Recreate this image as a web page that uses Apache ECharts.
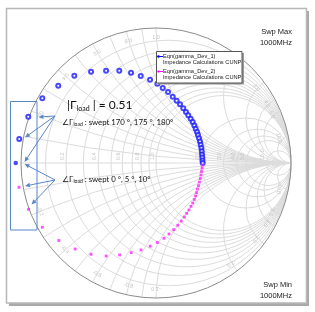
<!DOCTYPE html>
<html>
<head>
<meta charset="utf-8">
<style>
  html, body { margin: 0; padding: 0; background: #fff; }
  #chart { width: 315px; height: 312px; }
</style>
<script src="https://cdn.jsdelivr.net/npm/echarts@6/dist/echarts.min.js"></script>
</head>
<body>
<div id="chart"></div>
<script>
// smith grid values (normalised r and x)
const resistanceGrid = [0.1, 0.2, 0.3, 0.4, 0.5, 0.6, 0.7, 0.8, 0.9, 1, 2, 3, 4, 5, 10];
const reactanceGrid = [0.1, 0.2, 0.3, 0.4, 0.5, 0.6, 0.7, 0.8, 0.9, 1, 2, 3, 4, 5, 10];
const resistanceLabels = ['0.2', '0.4', '0.6', '0.8', '1.0', '2.0', '3.0', '4.0', '5.0', '10.0'];
const reactanceLabels = ['0.2', '0.4', '0.6', '0.8', '1.0', '2.0', '3.0', '4.0', '5.0', '10.0'];

// reflection coefficient
const dev1Re = [-1.013, -0.946, -0.842, -0.724, -0.605, -0.481, -0.370, -0.272, -0.185, -0.113, -0.044, 0.010, 0.050, 0.089, 0.124, 0.153, 0.178, 0.202, 0.222, 0.239, 0.257, 0.272, 0.284, 0.294, 0.304, 0.311, 0.319, 0.326, 0.331, 0.336, 0.339, 0.341, 0.343, 0.344, 0.346];
const dev1Im = [0.178, 0.343, 0.479, 0.573, 0.647, 0.676, 0.684, 0.684, 0.669, 0.644, 0.617, 0.587, 0.556, 0.526, 0.491, 0.461, 0.435, 0.405, 0.378, 0.353, 0.328, 0.304, 0.278, 0.254, 0.230, 0.207, 0.183, 0.159, 0.136, 0.111, 0.087, 0.063, 0.041, 0.019, 0.000];
const dev2Re = [-1.015, -0.944, -0.842, -0.720, -0.599, -0.481, -0.369, -0.269, -0.184, -0.111, -0.043, 0.010, 0.059, 0.096, 0.131, 0.161, 0.187, 0.210, 0.227, 0.244, 0.259, 0.272, 0.284, 0.293, 0.300, 0.307, 0.315, 0.322, 0.328, 0.333, 0.337, 0.341, 0.344];
const dev2Im = [-0.180, -0.343, -0.476, -0.574, -0.637, -0.676, -0.689, -0.681, -0.664, -0.644, -0.616, -0.589, -0.558, -0.526, -0.494, -0.461, -0.430, -0.400, -0.373, -0.348, -0.321, -0.296, -0.270, -0.244, -0.219, -0.193, -0.167, -0.141, -0.115, -0.089, -0.063, -0.037, -0.015];
const startRe = [-1.039];
const startIm = [0.0];

const seriesNames = ['Eqn(gamma_Dev_1)', 'Eqn(gamma_Dev_2)'];
const seriesSub = 'Impedance Calculations CUNP';

const gridColor = '#dcdcdc';
const labelColor = '#c4c4c4';
const noteColor = '#5b86c8';
const noteFont = 'Lato';

const zip = (a, b) => a.map((v, i) => [v, b[i]]);

function resistanceItem(params, api) {
  const r = api.value(0);
  const c = api.coord([r / (1 + r), 0]);
  const rad = api.size([1 / (1 + r), 0])[0];
  return {
    type: 'circle', silent: true,
    shape: { cx: c[0], cy: c[1], r: rad },
    style: { fill: 'none', stroke: gridColor, lineWidth: 1 }
  };
}

function reactanceItem(params, api) {
  const x = api.value(0);
  const c = api.coord([1, 1 / x]);
  const rad = api.size([1 / Math.abs(x), 0])[0];
  const p = api.coord([(x * x - 1) / (x * x + 1), 2 * x / (x * x + 1)]);
  let a = Math.atan2(p[1] - c[1], p[0] - c[0]);
  let start, cw;
  if (x > 0) {
    start = Math.PI / 2; cw = true;
    while (a < start) a += 2 * Math.PI;
  } else {
    start = -Math.PI / 2; cw = false;
    while (a > start) a -= 2 * Math.PI;
  }
  return {
    type: 'arc', silent: true,
    shape: { cx: c[0], cy: c[1], r: rad, startAngle: start, endAngle: a, clockwise: cw },
    style: { fill: 'none', stroke: gridColor, lineWidth: 1 }
  };
}

function outlineItem(params, api) {
  const c = api.coord([0, 0]);
  const rad = api.size([1, 0])[0];
  const l = api.coord([-1, 0]);
  const r = api.coord([1, 0]);
  return {
    type: 'group', silent: true,
    children: [
      { type: 'line', shape: { x1: l[0], y1: l[1], x2: r[0], y2: r[1] }, style: { stroke: gridColor, lineWidth: 1 } },
      { type: 'circle', shape: { cx: c[0], cy: c[1], r: rad }, style: { fill: 'none', stroke: '#8c8c8c', lineWidth: 1 } }
    ]
  };
}

function rLabelItem(params, api) {
  const r = parseFloat(resistanceLabels[params.dataIndex]);
  const p = api.coord([(r - 1) / (r + 1), 0]);
  return {
    type: 'text', silent: true,
    x: p[0] - 1, y: p[1] - 3, rotation: Math.PI / 2,
    style: { text: resistanceLabels[params.dataIndex], fill: labelColor, font: '5.5px "Liberation Sans"', align: 'left', verticalAlign: 'bottom' }
  };
}

function xLabelItem(params, api) {
  const n = reactanceLabels.length;
  const i = params.dataIndex % n;
  const sign = params.dataIndex < n ? 1 : -1;
  const x = sign * parseFloat(reactanceLabels[i]);
  const gx = (x * x - 1) / (x * x + 1), gy = 2 * x / (x * x + 1);
  const p = api.coord([gx * 0.93, gy * 0.93]);
  const ang = Math.atan2(gy, gx);
  let rot = ang - Math.PI / 2;
  if (gx < 0) rot += Math.PI;
  return {
    type: 'text', silent: true,
    x: p[0], y: p[1], rotation: rot,
    style: { text: (sign < 0 ? '-' : '') + reactanceLabels[i], fill: labelColor, font: '5.5px "Liberation Sans"', align: 'center', verticalAlign: 'middle' }
  };
}

// text pieces with subscripts, laid out with measured widths
const measureCtx = document.createElement('canvas').getContext('2d');
function textRun(x, y, parts) {
  const out = [];
  let cx = x;
  parts.forEach(p => {
    const font = p.size + 'px ' + noteFont;
    measureCtx.font = font;
    out.push({ type: 'text', silent: true, z: 50, x: cx, y: y + (p.dy || 0),
      style: { text: p.text, font: font, fill: '#111', align: 'left', verticalAlign: 'middle' } });
    cx += measureCtx.measureText(p.text).width;
  });
  return out;
}

function arrow(x1, y1, x2, y2) {
  const ang = Math.atan2(y2 - y1, x2 - x1);
  const len = 5, half = 2.2;
  const bx = x2 - len * Math.cos(ang), by = y2 - len * Math.sin(ang);
  const nx = -Math.sin(ang), ny = Math.cos(ang);
  return [
    { type: 'line', silent: true, z: 50, shape: { x1: x1, y1: y1, x2: bx, y2: by }, style: { stroke: noteColor, lineWidth: 1 } },
    { type: 'polygon', silent: true, z: 50, shape: { points: [[x2, y2], [bx + nx * half, by + ny * half], [bx - nx * half, by - ny * half]] }, style: { fill: noteColor } }
  ];
}

const graphics = [
  { type: 'rect', silent: true, z: -5, shape: { x: 9, y: 11, width: 300, height: 295 }, style: { fill: '#a9a9a9' } },
  { type: 'rect', silent: true, z: -4, shape: { x: 6.5, y: 8.5, width: 300, height: 294.5 }, style: { fill: '#fff', stroke: '#b8b8b8', lineWidth: 1.5 } },
  // legend box
  { type: 'rect', silent: true, z: 60, shape: { x: 158, y: 53, width: 86, height: 31.5 }, style: { fill: '#9a9a9a' } },
  { type: 'rect', silent: true, z: 61, shape: { x: 156.5, y: 51.5, width: 85.5, height: 31.5 }, style: { fill: '#fff', stroke: '#555', lineWidth: 1 } },
  { type: 'line', silent: true, z: 62, shape: { x1: 157.5, y1: 56.5, x2: 163, y2: 56.5 }, style: { stroke: '#0000ff', lineWidth: 1 } },
  { type: 'circle', silent: true, z: 62, shape: { cx: 158.5, cy: 56.5, r: 1.3 }, style: { fill: '#0000ff' } },
  { type: 'line', silent: true, z: 62, shape: { x1: 157.5, y1: 71.5, x2: 163, y2: 71.5 }, style: { stroke: '#ff00ff', lineWidth: 1 } },
  { type: 'rect', silent: true, z: 62, shape: { x: 157.5, y: 70.5, width: 2, height: 2 }, style: { fill: '#ff00ff' } },
  { type: 'text', silent: true, z: 62, x: 163, y: 56.5, style: { text: seriesNames[0], font: '5.7px "Liberation Sans"', fill: '#222', verticalAlign: 'middle' } },
  { type: 'text', silent: true, z: 62, x: 163, y: 62.5, style: { text: seriesSub, font: '5.7px "Liberation Sans"', fill: '#222', verticalAlign: 'middle' } },
  { type: 'text', silent: true, z: 62, x: 163, y: 71.5, style: { text: seriesNames[1], font: '5.7px "Liberation Sans"', fill: '#222', verticalAlign: 'middle' } },
  { type: 'text', silent: true, z: 62, x: 163, y: 77.5, style: { text: seriesSub, font: '5.7px "Liberation Sans"', fill: '#222', verticalAlign: 'middle' } },
  // sweep labels
  { type: 'text', silent: true, z: 50, x: 292, y: 32, style: { text: 'Swp Max', font: '7.5px "Liberation Sans"', fill: '#222', align: 'right', verticalAlign: 'middle' } },
  { type: 'text', silent: true, z: 50, x: 292, y: 42.5, style: { text: '1000MHz', font: '7.5px "Liberation Sans"', fill: '#222', align: 'right', verticalAlign: 'middle' } },
  { type: 'text', silent: true, z: 50, x: 292, y: 285, style: { text: 'Swp Min', font: '7.5px "Liberation Sans"', fill: '#222', align: 'right', verticalAlign: 'middle' } },
  { type: 'text', silent: true, z: 50, x: 292, y: 295.5, style: { text: '1000MHz', font: '7.5px "Liberation Sans"', fill: '#222', align: 'right', verticalAlign: 'middle' } },
  // annotation box
  { type: 'rect', silent: true, z: 50, shape: { x: 10.5, y: 101.5, width: 26.5, height: 128.5 }, style: { fill: 'none', stroke: noteColor, lineWidth: 1 } }
]
  .concat(textRun(67, 105.5, [{ text: '|Γ', size: 12 }, { text: 'load', size: 7, dy: 3.5 }, { text: ' | = 0.51', size: 12 }]))
  .concat(textRun(62, 122, [{ text: '∠Γ', size: 8 }, { text: 'load', size: 5, dy: 2.5 }, { text: ' : swept 170 °, 175 °, 180°', size: 7.8 }]))
  .concat(textRun(62, 179, [{ text: '∠Γ', size: 8 }, { text: 'load', size: 5, dy: 2.5 }, { text: ' : swept 0 °, 5 °, 10°', size: 7.8 }]))
  .concat(arrow(55, 116, 38.5, 117))
  .concat(arrow(55, 116, 25, 137.5))
  .concat(arrow(55, 116, 24.5, 162))
  .concat(arrow(55, 180, 24.5, 164))
  .concat(arrow(55, 180, 25, 186))
  .concat(arrow(55, 180, 31.5, 204.5));

const option = {
  animation: false,
  grid: { left: 21, top: 28, width: 270, height: 270 },
  xAxis: { type: 'value', min: -1, max: 1, show: false },
  yAxis: { type: 'value', min: -1, max: 1, show: false },
  graphic: graphics,
  series: [
    { type: 'custom', renderItem: resistanceItem, data: resistanceGrid.map(r => [r, 0]), silent: true, z: 1 },
    { type: 'custom', renderItem: reactanceItem, data: reactanceGrid.concat(reactanceGrid.map(v => -v)).map(v => [v, 0]), silent: true, z: 1 },
    { type: 'custom', renderItem: outlineItem, data: [[0, 0]], silent: true, z: 1 },
    { type: 'custom', renderItem: rLabelItem, data: resistanceLabels.map(() => [0, 0]), silent: true, z: 1 },
    { type: 'custom', renderItem: xLabelItem, data: reactanceLabels.concat(reactanceLabels).map(() => [0, 0]), silent: true, z: 1 },
    {
      name: seriesNames[0], type: 'scatter', z: 5, clip: false,
      symbol: 'emptyCircle', symbolSize: 4,
      itemStyle: { color: '#1a1aff', borderWidth: 0.9 },
      data: zip(dev1Re, dev1Im)
    },
    {
      name: seriesNames[1], type: 'scatter', z: 5, clip: false,
      symbol: 'rect', symbolSize: 2.8,
      itemStyle: { color: '#ff22ff' },
      data: zip(dev2Re, dev2Im)
    },
    {
      type: 'scatter', z: 6, clip: false,
      symbol: 'circle', symbolSize: 4.5,
      itemStyle: { color: '#2020ff' },
      data: zip(startRe, startIm)
    }
  ]
};

echarts.init(document.getElementById('chart')).setOption(option);
</script>
</body>
</html>
